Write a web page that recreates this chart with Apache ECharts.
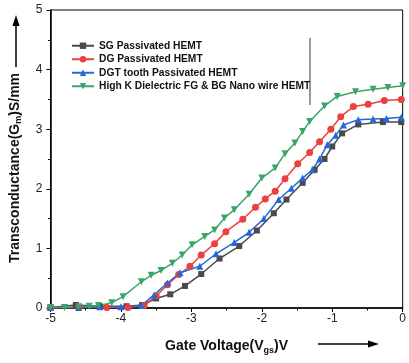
<!DOCTYPE html>
<html>
<head>
<meta charset="utf-8">
<script src="https://cdn.jsdelivr.net/npm/echarts@6/dist/echarts.min.js"></script>
<style>
  html, body { margin: 0; padding: 0; background: #fff; }
  #chart { width: 409px; height: 363px; }
</style>
</head>
<body>
<div id="chart"></div>
<script>
// Gate voltage (V) and transconductance (S/mm)
const sgX = [-5, -4.64, -4.3, -3.92, -3.7, -3.5, -3.3, -3.09, -2.86, -2.6, -2.32, -2.07, -1.83, -1.65, -1.42, -1.25, -1.11, -1.0, -0.86, -0.63, -0.28, -0.02]
const sgY = [0.01, 0.05, 0.03, 0.03, 0.05, 0.16, 0.23, 0.37, 0.57, 0.83, 1.04, 1.3, 1.59, 1.82, 2.1, 2.32, 2.5, 2.71, 2.93, 3.08, 3.12, 3.12]

const dgX = [-5, -4.6, -4.2, -3.9, -3.67, -3.5, -3.34, -3.18, -3.02, -2.86, -2.67, -2.51, -2.27, -2.09, -1.95, -1.81, -1.67, -1.49, -1.32, -1.18, -1.02, -0.88, -0.7, -0.49, -0.26, -0.02]
const dgY = [0.01, 0.01, 0.01, 0.01, 0.04, 0.2, 0.39, 0.56, 0.7, 0.89, 1.08, 1.28, 1.49, 1.69, 1.83, 1.96, 2.17, 2.42, 2.61, 2.79, 3.0, 3.21, 3.38, 3.42, 3.48, 3.5]

const dgtX = [-5, -4.6, -4.3, -4.0, -3.71, -3.53, -3.34, -3.16, -2.88, -2.65, -2.39, -2.18, -1.97, -1.76, -1.58, -1.42, -1.28, -1.18, -1.07, -0.95, -0.84, -0.63, -0.42, -0.23, -0.02]
const dgtY = [0.01, 0.01, 0.02, 0.02, 0.04, 0.22, 0.42, 0.59, 0.7, 0.91, 1.1, 1.27, 1.5, 1.82, 2.01, 2.18, 2.32, 2.5, 2.74, 2.9, 3.07, 3.16, 3.17, 3.18, 3.2]

const hkX = [-5, -4.8, -4.6, -4.45, -4.32, -4.13, -3.97, -3.71, -3.57, -3.43, -3.27, -3.13, -2.99, -2.81, -2.67, -2.53, -2.39, -2.18, -2.0, -1.81, -1.67, -1.53, -1.42, -1.32, -1.11, -0.93, -0.67, -0.42, -0.21, 0]
const hkY = [0.01, 0.01, 0.02, 0.03, 0.04, 0.09, 0.19, 0.44, 0.55, 0.63, 0.75, 0.89, 1.06, 1.2, 1.31, 1.51, 1.65, 1.91, 2.18, 2.35, 2.59, 2.77, 2.96, 3.13, 3.39, 3.55, 3.63, 3.67, 3.7, 3.73]

const seriesNames = [
  'SG Passivated HEMT',
  'DG Passivated HEMT',
  'DGT tooth Passivated HEMT',
  'High K Dielectric FG & BG Nano wire HEMT',
]
const colors = ['#4a4a4a', '#e8413e', '#2468d8', '#3aa568']

const zip = (xs, ys) => xs.map((x, i) => [x, ys[i]])

const makeSeries = (name, data, color, symbol, rotate) => ({
  name: name,
  type: 'line',
  data: data,
  symbol: symbol,
  symbolSize: symbol === 'rect' ? 6 : 7,
  symbolRotate: rotate || 0,
  lineStyle: { color: color, width: 1.5 },
  itemStyle: { color: color },
})

const chart = echarts.init(document.getElementById('chart'))

const axisFont = { fontFamily: 'Liberation Sans, Arial', fontSize: 12, color: '#222' }

chart.setOption({
  animation: false,
  grid: {
    left: 48,
    right: 2,
    top: 10,
    bottom: 55,
    show: true,
    borderColor: '#000',
    borderWidth: 1,
  },
  legend: {
    orient: 'vertical',
    left: 71,
    top: 40,
    padding: 0,
    itemWidth: 22,
    itemHeight: 8,
    itemGap: 2,
    data: seriesNames,
    textStyle: {
      fontFamily: 'Liberation Sans, Arial',
      fontSize: 10.25,
      fontWeight: 'bold',
      color: '#111',
      lineHeight: 11.5,
    },
  },
  xAxis: {
    type: 'value',
    min: -5,
    max: 0,
    interval: 1,
    name: 'Gate Voltage(V{sub|gs})V',
    nameLocation: 'middle',
    nameGap: 30,
    nameTextStyle: {
      fontFamily: 'Liberation Sans, Arial',
      fontSize: 14,
      fontWeight: 'bold',
      color: '#111',
      rich: {
        sub: { fontSize: 9, fontWeight: 'bold', color: '#111', verticalAlign: 'bottom', padding: [8, 0, 0, 0] },
      },
    },
    axisLine: { onZero: false, lineStyle: { color: '#000', width: 1.5 } },
    axisTick: { inside: false, length: 4, lineStyle: { color: '#000' } },
    minorTick: { show: true, splitNumber: 2, length: 2.5, lineStyle: { color: '#000' } },
    axisLabel: { ...axisFont, margin: 5 },
    splitLine: { show: false },
  },
  yAxis: {
    type: 'value',
    min: 0,
    max: 5,
    interval: 1,
    name: 'Transconductance(G{sub|m})S/mm',
    nameLocation: 'middle',
    nameGap: 27,
    nameTextStyle: {
      fontFamily: 'Liberation Sans, Arial',
      fontSize: 14,
      fontWeight: 'bold',
      color: '#111',
      padding: [0, 18, 0, 0],
      rich: {
        sub: { fontSize: 9, fontWeight: 'bold', color: '#111', verticalAlign: 'bottom', padding: [8, 0, 0, 0] },
      },
    },
    axisLine: { show: true, onZero: false, lineStyle: { color: '#000', width: 1.5 } },
    axisTick: { show: true, inside: false, length: 4, lineStyle: { color: '#000' } },
    minorTick: { show: true, splitNumber: 2, length: 2.5, lineStyle: { color: '#000' } },
    axisLabel: { ...axisFont, margin: 8 },
    splitLine: { show: false },
  },
  graphic: [
    // legend box edge
    { type: 'line', shape: { x1: 310, y1: 38, x2: 310, y2: 105 }, style: { stroke: '#333', lineWidth: 1 } },
    // y-axis arrow
    { type: 'line', shape: { x1: 16, y1: 67, x2: 16, y2: 24 }, style: { stroke: '#000', lineWidth: 1.5 } },
    { type: 'polygon', shape: { points: [[16, 15], [12.5, 26], [19.5, 26]] }, style: { fill: '#000' } },
    // x-axis arrow
    { type: 'line', shape: { x1: 318, y1: 344, x2: 370, y2: 344 }, style: { stroke: '#000', lineWidth: 1.5 } },
    { type: 'polygon', shape: { points: [[379, 344], [368, 340.5], [368, 347.5]] }, style: { fill: '#000' } },
  ],
  series: [
    makeSeries(seriesNames[0], zip(sgX, sgY), colors[0], 'rect'),
    makeSeries(seriesNames[1], zip(dgX, dgY), colors[1], 'circle'),
    makeSeries(seriesNames[2], zip(dgtX, dgtY), colors[2], 'triangle'),
    makeSeries(seriesNames[3], zip(hkX, hkY), colors[3], 'triangle', 180),
  ],
})
</script>
</body>
</html>
